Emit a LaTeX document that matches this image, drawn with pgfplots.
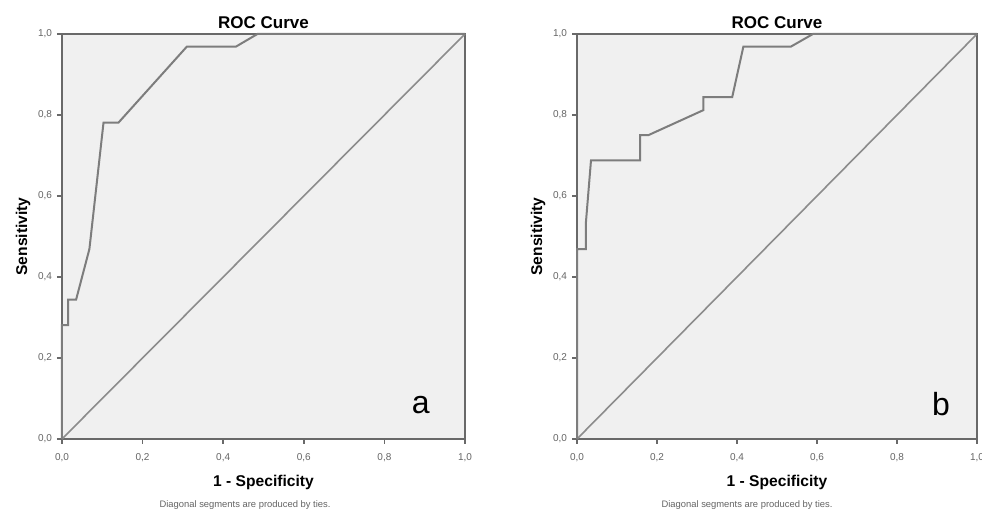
\documentclass[border=0pt]{standalone}
\usepackage{pgfplots}
\pgfplotsset{compat=1.18}
\usepackage{fontspec}
\setmainfont{Liberation Sans}
\setsansfont{Liberation Sans}

\definecolor{spssbg}{RGB}{240,240,240}
\definecolor{spssframe}{RGB}{105,105,105}
\definecolor{spsscurve}{RGB}{125,125,125}
\definecolor{spssdiag}{RGB}{140,140,140}
\definecolor{spsstick}{RGB}{100,100,100}

\pgfplotstableread{
x y
0.000 0.000
0.000 0.281
0.015 0.281
0.015 0.344
0.035 0.344
0.068 0.469
0.103 0.781
0.140 0.781
0.310 0.969
0.432 0.969
0.485 1.000
1.000 1.000
}\roca

\pgfplotstableread{
x y
0.000 0.000
0.000 0.469
0.022 0.469
0.022 0.531
0.035 0.688
0.158 0.688
0.158 0.750
0.178 0.750
0.316 0.812
0.316 0.844
0.388 0.844
0.416 0.969
0.535 0.969
0.590 1.000
1.000 1.000
}\rocb

\pgfplotsset{
  rocstyle/.style={
    scale only axis,
    width=201.5pt, height=202.5pt,
    xmin=0, xmax=1, ymin=0, ymax=1,
    axis background/.style={fill=spssbg},
    axis line style={spssframe, line width=1pt},
    xtick={0,0.2,...,1}, ytick={0,0.2,...,1},
    tick align=outside, tick pos=left,
    major tick length=2.5pt,
    tick style={spssframe, line width=0.8pt},
    xticklabels={0{,}0,0{,}2,0{,}4,0{,}6,0{,}8,1{,}0},
    yticklabels={0{,}0,0{,}2,0{,}4,0{,}6,0{,}8,1{,}0},
    tick label style={font=\fontsize{5}{6}\selectfont, text=spsstick},
    xticklabel style={yshift=-1pt},
    yticklabel style={xshift=1pt},
    title={ROC Curve},
    title style={font=\fontsize{8.5}{10}\selectfont\bfseries, yshift=-7pt},
    xlabel={1 - Specificity},
    ylabel={Sensitivity},
    label style={font=\fontsize{7.8}{9}\selectfont\bfseries},
    xlabel style={yshift=0pt},
    ylabel style={yshift=-3pt},
    clip=false,
  }
}

\begin{document}
\begin{tikzpicture}
  \begin{axis}[rocstyle, at={(31pt,41.5pt)}, anchor=origin]
    \addplot[spssdiag, line width=0.8pt] coordinates {(0,0) (1,1)};
    \addplot[spsscurve, line width=1pt] table[x=x, y=y] {\roca};
    \node[font=\fontsize{16}{18}\selectfont] at (axis cs:0.89,0.085) {a};
  \end{axis}
  \node[font=\fontsize{4.7}{6}\selectfont, text=spsstick] at (122.5pt,8.5pt) {Diagonal segments are produced by ties.};

  \begin{axis}[rocstyle, width=200pt, at={(288.5pt,41.5pt)}, anchor=origin]
    \addplot[spssdiag, line width=0.8pt] coordinates {(0,0) (1,1)};
    \addplot[spsscurve, line width=1pt] table[x=x, y=y] {\rocb};
    \node[font=\fontsize{16}{18}\selectfont] at (axis cs:0.91,0.085) {b};
  \end{axis}
  \node[font=\fontsize{4.7}{6}\selectfont, text=spsstick] at (373.5pt,8.5pt) {Diagonal segments are produced by ties.};

  \pgfresetboundingbox
  \useasboundingbox (0,0) rectangle (491pt,261pt);
\end{tikzpicture}
\end{document}
